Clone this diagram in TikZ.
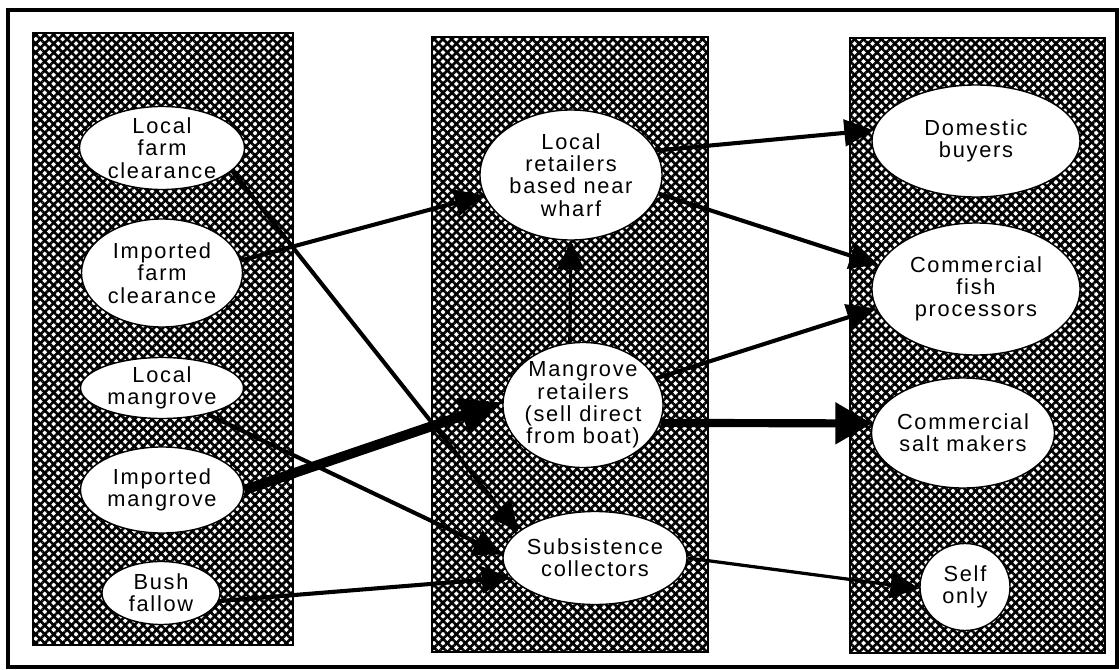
\documentclass[tikz,border=0pt]{standalone}
\usepackage{fontspec}
\setmainfont{Liberation Sans}[LetterSpace=8]
\usetikzlibrary{shapes.geometric,arrows.meta,patterns.meta}

\begin{document}
\begin{tikzpicture}[x=0.025cm, y=-0.025cm,
		panel/.style={draw, line width=1.6pt,
			pattern={Lines[angle=45,distance=4.5pt,line width=1.9pt]},
			postaction={pattern={Lines[angle=-45,distance=4.5pt,line width=1.9pt]}}},
		every node/.style={shape=ellipse, draw, line width=1pt, fill=white,
			inner sep=-2mm, align=center, font=\fontsize{15.5}{15.8}\selectfont},
		flow/.style={line width=2.9pt, -{Triangle[length=0.72cm,width=0.66cm]}},
		thin flow/.style={flow, line width=2.3pt},
		heavy flow/.style={line width=5.8pt, -{Triangle[length=0.92cm,width=1cm]}},
		heaviest flow/.style={line width=7pt, -{Triangle[length=1.05cm,width=0.85cm]}}]

	\useasboundingbox (0,0) rectangle (1120,670);
	\draw[line width=2.2pt] (8,10) rectangle (1117,667);

	\path[panel] (33,33) rectangle (293,645);
	\path[panel] (432,37) rectangle (708,652);
	\path[panel] (850,38) rectangle (1105,653);

	\node[minimum width=4.125cm, minimum height=2.075cm] (lfc) at (162,148) {Local\\farm\\clearance};
	\node[minimum width=4.025cm, minimum height=2.7cm] (ifc) at (162,273) {Imported\\farm\\clearance};
	\node[minimum width=4.075cm, minimum height=1.525cm] (lm) at (162,388) {Local\\mangrove};
	\node[minimum width=4.075cm, minimum height=2.15cm] (im) at (162,490) {Imported\\mangrove};
	\node[minimum width=2.95cm, minimum height=1.575cm] (bf) at (161,593) {Bush\\fallow};

	\node[minimum width=4.55cm, minimum height=3.25cm] (lr) at (571,175) {Local\\retailers\\based near\\wharf};
	\node[minimum width=4cm, minimum height=3.125cm] (mr) at (583,405) {Mangrove\\retailers\\(sell direct\\from boat)};
	\node[minimum width=4.6cm, minimum height=2.325cm] (sub) at (595,558) {Subsistence\\collectors};

	\node[minimum width=5.2cm, minimum height=2.8cm] (db) at (976,141) {Domestic\\buyers};
	\node[minimum width=5.2cm, minimum height=3.3cm] (cfp) at (976,289) {Commercial\\fish\\processors};
	\node[minimum width=4.575cm, minimum height=2.75cm] (csm) at (963,433) {Commercial\\salt makers};
	\node[minimum width=2.25cm, minimum height=2.175cm] (so) at (965,587) {Self\\only};

	\draw[flow] (lfc.-18) -- (sub.161);
	\draw[flow] (ifc.9) -- (lr.193);
	\draw[flow] (lm.-30) -- (sub.178);
	\draw[heaviest flow] (im.east) -- (mr.178);
	\draw[flow] (bf.-8) -- (sub.193);
	\draw[thin flow] (mr.102) -- (lr.south);
	\draw[flow] (lr.16) -- (db.174);
	\draw[flow] (lr.-12) -- (cfp.166);
	\draw[flow] (mr.20) -- (cfp.191);
	\draw[heavy flow] (mr.-13) -- (csm.174);
	\draw[thin flow] (sub.0) -- (so.182);
\end{tikzpicture}
\end{document}
